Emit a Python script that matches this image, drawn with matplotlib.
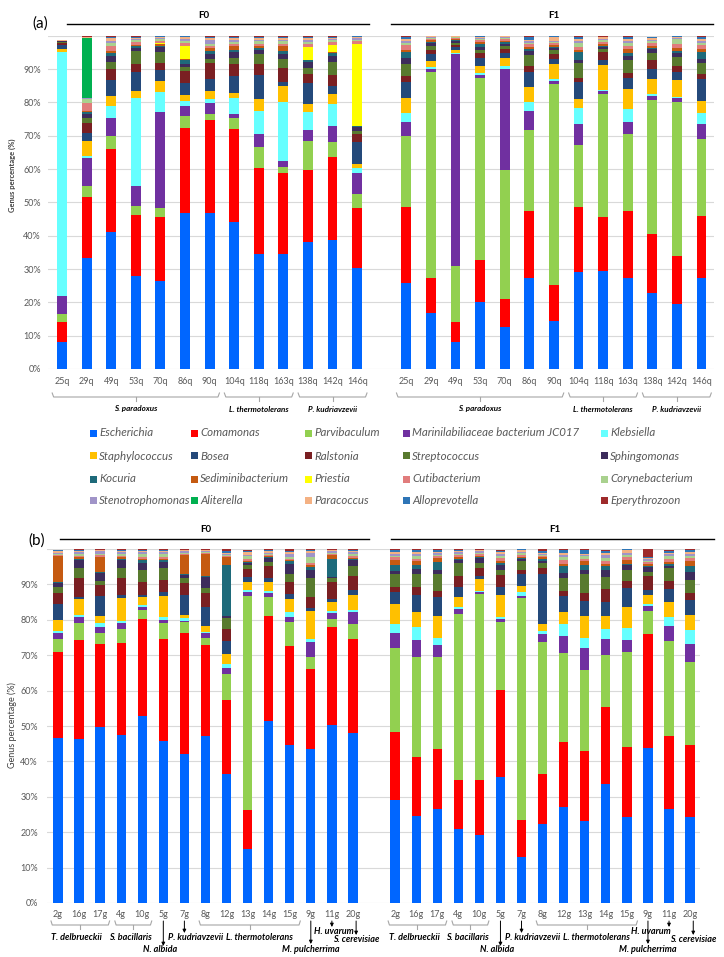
import numpy as np
import matplotlib
matplotlib.use('Agg')
import matplotlib.pyplot as plt
from matplotlib.patches import Rectangle
from matplotlib.lines import Line2D
from matplotlib import transforms

plt.rcParams['font.family'] = ['Lato', 'DejaVu Sans']

# --- genera (stacking order, bottom -> top) and colours ---
genera = ['Escherichia', 'Comamonas', 'Parvibaculum', 'Marinilabiliaceae bacterium JC017', 'Klebsiella',
          'Staphylococcus', 'Bosea', 'Ralstonia', 'Streptococcus', 'Sphingomonas',
          'Kocuria', 'Sediminibacterium', 'Priestia', 'Cutibacterium', 'Corynebacterium',
          'Stenotrophomonas', 'Aliterella', 'Paracoccus', 'Alloprevotella', 'Eperythrozoon']
colors = ['#0066FF', '#FF0000', '#92D050', '#7030A0', '#66FFFF',
          '#FFC000', '#24497A', '#7A1F22', '#587A2E', '#3D2C5C',
          '#1E6A7A', '#C55A11', '#FFFF00', '#E17C7C', '#A9D18E',
          '#A094C8', '#00B050', '#F4B183', '#2E75B6', '#9E2A2B']

# --- panel (a): F0 then F1, same samples ---
samples_a = ['25q', '29q', '49q', '53q', '70q', '86q', '90q', '104q', '118q', '163q', '138q', '142q', '146q']

esch_a = [8, 33.4, 41.0, 28.0, 26.4, 46.7, 46.7, 44.2, 34.4, 34.6, 38.2, 38.8, 30.4,
          25.9, 16.9, 8.0, 20.0, 12.5, 27.3, 14.5, 29.0, 29.5, 27.2, 22.7, 19.4, 27.2]
coma_a = [6, 18.3, 24.9, 18.1, 19.2, 25.6, 28.1, 27.8, 25.9, 24.1, 21.6, 24.7, 17.8,
          22.6, 10.4, 6.0, 12.6, 8.5, 20.1, 10.6, 19.5, 16.0, 20.2, 17.7, 14.6, 18.7]
parv_a = [2.5, 3.1, 3.9, 2.7, 2.6, 3.7, 1.8, 3.3, 6.3, 1.8, 8.7, 4.6, 4.2,
          21.5, 61.7, 16.8, 54.8, 38.7, 24.3, 60.5, 18.6, 36.9, 23.2, 40.3, 46.2, 23.0]
mari_a = [5.3, 8.5, 5.4, 6.2, 28.9, 3.0, 3.1, 1.1, 3.9, 1.9, 3.3, 4.7, 6.5,
          4.1, 0.9, 63.7, 0.8, 30.2, 5.6, 0.8, 6.3, 1.0, 3.5, 1.2, 1.0, 4.6]
kleb_a = [73.4, 0.6, 3.6, 26.3, 6.1, 1.4, 1.3, 4.9, 6.8, 17.6, 5.2, 6.6, 1.4,
          2.6, 0.8, 0.4, 0.7, 1.1, 2.9, 0.5, 4.8, 0.4, 3.8, 0.5, 0.5, 3.2]
staph_a = [0.8, 4.4, 3.2, 2.0, 3.2, 1.7, 2.5, 1.6, 3.8, 5.0, 2.6, 3.0, 1.1,
           4.7, 1.7, 0.8, 2.1, 2.3, 4.5, 4.6, 2.9, 7.4, 6.0, 4.7, 5.1, 3.7]
bosea_a = [1.2, 2.6, 4.7, 5.9, 3.2, 3.7, 3.6, 5.1, 7.2, 1.2, 6.2, 2.4, 6.7,
           4.8, 2.0, 0.8, 2.2, 1.6, 4.5, 1.5, 4.9, 1.4, 3.3, 3.0, 2.2, 6.6]
ralst_a = [0.6, 2.8, 3.4, 2.2, 2.1, 3.6, 4.7, 3.5, 3.3, 4.0, 2.7, 3.3, 2.3,
           1.8, 1.3, 0.8, 1.5, 1.0, 1.8, 1.4, 1.3, 2.4, 1.6, 2.5, 2.0, 1.4]
strep_a = [0.2, 1.5, 1.9, 3.9, 3.5, 1.2, 1.2, 1.7, 2.8, 2.8, 1.8, 4.1, 1.1,
           3.6, 1.2, 0.5, 1.0, 1.0, 3.3, 1.2, 4.6, 1.0, 3.9, 2.1, 2.6, 3.3]
sphing_a = [0.3, 1.3, 1.8, 1.0, 1.4, 1.0, 1.5, 1.8, 1.2, 1.5, 1.7, 1.8, 1.1,
            1.7, 0.8, 0.6, 1.0, 0.7, 1.0, 0.7, 0.9, 0.6, 1.3, 1.2, 1.1, 1.2]
kocur_a = [0.1, 0.6, 1.0, 0.6, 0.4, 1.0, 0.8, 0.8, 0.6, 0.8, 0.7, 0.8, 0.3,
           1.8, 0.5, 0.3, 0.7, 0.4, 0.7, 0.4, 2.2, 0.4, 0.9, 0.5, 0.8, 2.2]
sedim_a = [0, 0.3, 0.7, 0.4, 0.4, 0.3, 1.0, 1.2, 0.6, 1.5, 0, 0.3, 0,
           0.7, 0.4, 0.3, 0.6, 0.4, 0.7, 0.4, 0.8, 0.5, 1.1, 0.6, 0.7, 0.9]
priest_a = [0, 0, 0, 0, 0.4, 4.0, 0, 0, 0, 0, 4.0, 2.1, 24.7,
            0, 0, 0, 0, 0, 0, 0, 0, 0, 0, 0, 0, 0]
cuti_a = [0.1, 2.3, 1.5, 0.7, 0.6, 1.0, 0.7, 0.6, 0.8, 0.8, 0.8, 0.8, 0.7,
          1.5, 0.5, 0.3, 0.6, 0.5, 0.7, 0.6, 0.8, 0.7, 1.0, 0.7, 1.3, 1.2]
coryne_a = [0, 1.4, 0.8, 0.6, 0.5, 0.4, 0.5, 0.6, 0.7, 0.7, 0.6, 0.6, 0.5,
            0.6, 0.3, 0.2, 0.4, 0.3, 0.5, 0.4, 1.2, 0.5, 0.8, 0.6, 1.5, 0.6]
steno_a = [0, 0.2, 0.6, 0.3, 0.3, 0.6, 1.2, 0.4, 0.5, 0.5, 0.5, 0.4, 0.4,
           0.5, 0.2, 0.1, 0.3, 0.3, 0.4, 0.4, 0.5, 0.4, 0.6, 0.5, 0.3, 0.5]
aliter_a = [0, 17.9, 0.1, 0.1, 0, 0, 0, 0, 0, 0, 0, 0, 0,
            0, 0, 0, 0, 0, 0, 0, 0, 0, 0, 0, 0, 0]
parac_a = [0.1, 0.3, 0.7, 0.4, 0.4, 0.6, 0.5, 0.6, 0.5, 0.5, 0.6, 0.4, 0.4,
           0.6, 0.2, 0.2, 0.3, 0.3, 0.5, 1.0, 0.6, 0.4, 0.5, 0.4, 0.3, 0.6]
allop_a = [0, 0.2, 0.3, 0.3, 0.2, 0.3, 0.4, 0.4, 0.4, 0.4, 0.4, 0.3, 0.3,
           0.5, 0.1, 0.1, 0.2, 0.2, 0.9, 0.3, 0.6, 0.2, 0.7, 0.3, 0.2, 0.6]
epery_a = [0, 0.2, 0.3, 0.3, 0.2, 0.2, 0.3, 0.3, 0.3, 0.3, 0.3, 0.3, 0.2,
           0.3, 0.1, 0.1, 0.2, 0.1, 0.3, 0.2, 0.3, 0.3, 0.3, 0.2, 0.2, 0.3]

# --- panel (b): F0 then F1, same samples ---
samples_b = ['2g', '16g', '17g', '4g', '10g', '5g', '7g', '8g', '12g', '13g', '14g', '15g', '9g', '11g', '20g']

esch_b = [46.5, 46.3, 49.6, 47.4, 52.8, 45.9, 42.2, 47.1, 36.4, 15.3, 51.5, 44.5, 43.5, 50.3, 47.9,
          29.1, 24.7, 26.5, 20.8, 19.2, 35.6, 13.0, 22.2, 27.2, 23.3, 33.5, 24.2, 43.9, 26.5, 24.2]
coma_b = [24.3, 28.0, 23.5, 26.0, 27.4, 28.6, 34.0, 25.8, 20.9, 10.9, 29.6, 28.1, 22.5, 27.8, 26.6,
          19.2, 16.6, 17.0, 14.0, 15.5, 24.6, 10.4, 14.3, 18.4, 19.6, 22.0, 20.0, 32.0, 20.7, 20.5]
parv_b = [3.8, 4.9, 3.1, 3.9, 2.6, 4.5, 3.1, 2.1, 7.3, 60.6, 5.2, 6.9, 3.6, 2.1, 4.3,
          23.6, 28.3, 26.1, 46.7, 52.5, 19.1, 62.7, 37.3, 24.9, 22.9, 14.6, 26.8, 6.6, 26.9, 23.5]
mari_b = [1.8, 1.5, 1.7, 1.7, 0.9, 0.9, 0.5, 1.2, 1.9, 1.0, 1.2, 1.4, 4.2, 1.8, 3.5,
          4.3, 4.7, 3.3, 1.5, 0.6, 0.9, 0.7, 2.1, 5.0, 6.1, 4.5, 3.3, 1.4, 4.2, 4.9]
kleb_b = [0.4, 0.7, 1.1, 0.7, 0.5, 1.0, 0.8, 0.3, 1.0, 0.6, 0.7, 1.4, 0.7, 0.6, 0.5,
          2.6, 3.8, 1.9, 0.5, 0.2, 0.7, 1.0, 0.9, 3.3, 2.9, 2.8, 3.5, 0.6, 2.6, 4.0]
staph_b = [3.1, 4.4, 2.1, 6.4, 2.3, 5.9, 0.8, 1.8, 2.7, 2.4, 2.6, 3.5, 8.0, 2.3, 4.2,
           5.7, 4.2, 6.4, 3.0, 3.4, 6.1, 1.8, 1.9, 3.5, 6.3, 3.7, 5.9, 2.5, 4.0, 4.3]
bosea_b = [4.7, 0.7, 5.6, 0.9, 0.5, 1.0, 5.6, 5.4, 3.8, 1.4, 1.0, 1.4, 0.7, 1.0, 1.4,
           3.3, 4.7, 5.1, 2.9, 1.1, 2.4, 3.2, 14.1, 4.5, 4.2, 4.0, 5.2, 1.4, 3.8, 4.2]
ralst_b = [2.9, 5.2, 3.1, 4.7, 3.8, 3.4, 3.3, 3.8, 3.4, 2.2, 3.5, 3.6, 3.1, 4.7, 4.1,
           1.6, 2.4, 1.7, 3.1, 2.2, 3.3, 1.4, 1.9, 1.4, 2.2, 3.6, 2.1, 4.1, 2.3, 1.9]
strep_b = [1.7, 2.8, 1.2, 3.0, 3.3, 3.3, 1.4, 1.6, 3.0, 1.1, 1.1, 2.0, 5.4, 1.1, 2.8,
           3.4, 3.4, 4.8, 3.5, 1.3, 1.4, 2.4, 1.3, 3.5, 5.3, 3.5, 3.1, 0.9, 3.5, 3.7]
sphing_b = [1.2, 2.4, 2.1, 2.2, 1.9, 1.9, 1.0, 3.1, 0.6, 0.5, 1.0, 2.9, 2.4, 0.4, 1.6,
            1.0, 1.5, 1.3, 0.9, 1.4, 1.4, 0.5, 0.6, 1.4, 1.3, 1.9, 1.4, 1.6, 0.6, 2.2]
kocur_b = [0.2, 0.3, 0.4, 0.3, 0.9, 0.4, 0.2, 0.2, 14.4, 0.3, 0.2, 0.8, 0.9, 5.2, 0.3,
           1.7, 1.2, 2.3, 0.3, 0.3, 0.6, 0.4, 0.6, 2.2, 1.4, 1.2, 0.4, 0.3, 0.8, 1.9]
sedim_b = [7.4, 0.4, 4.3, 0.4, 0.3, 0.3, 5.4, 6.1, 2.3, 0.4, 0.3, 0.3, 0.4, 1.1, 0.3,
           1.4, 1.1, 1.0, 0.4, 0.3, 0.4, 0.3, 0.5, 0.6, 1.1, 0.6, 1.1, 0.4, 0.5, 1.3]
priest_b = [0] * 30
cuti_b = [0.3, 0.5, 0.5, 0.5, 0.5, 0.5, 0.4, 0.3, 0.4, 0.6, 0.4, 0.5, 0.6, 0.3, 0.5,
          0.7, 0.7, 0.5, 0.6, 0.5, 1.0, 0.5, 0.4, 1.0, 0.5, 0.7, 0.7, 0.5, 0.9, 0.8]
coryne_b = [0.4, 0.4, 0.3, 0.4, 0.8, 1.0, 0.3, 0.3, 0.3, 0.6, 0.3, 0.4, 1.8, 0.3, 0.5,
            0.5, 0.7, 0.4, 0.5, 0.4, 0.5, 0.5, 0.3, 0.8, 0.8, 0.8, 0.6, 0.4, 0.6, 0.6]
steno_b = [0.3, 0.6, 0.7, 0.6, 0.6, 0.5, 0.4, 0.3, 0.3, 0.4, 0.4, 1.0, 1.0, 0.3, 0.6,
           0.5, 0.6, 0.5, 0.4, 0.4, 0.6, 0.4, 0.3, 0.7, 0.4, 1.0, 0.6, 0.6, 0.6, 0.7]
aliter_b = [0] * 30
parac_b = [0.4, 0.3, 0.3, 0.3, 0.3, 0.3, 0.2, 0.2, 0.3, 0.8, 0.4, 0.5, 0.6, 0.3, 0.3,
           0.5, 0.5, 0.4, 0.4, 0.3, 0.5, 0.5, 0.3, 0.6, 0.4, 0.5, 0.7, 0.3, 0.4, 0.5]
allop_b = [0.2, 0.2, 0.2, 0.3, 0.3, 0.3, 0.2, 0.2, 0.3, 0.3, 0.3, 0.3, 0.3, 0.2, 0.3,
           0.6, 0.5, 0.4, 0.3, 0.2, 0.4, 0.2, 0.3, 0.6, 1.1, 0.6, 0.3, 0.2, 0.4, 0.5]
epery_b = [0.2, 0.4, 0.2, 0.3, 0.3, 0.2, 0.2, 0.2, 0.6, 0.3, 0.3, 0.4, 0.3, 0.2, 0.3,
           0.3, 0.4, 0.4, 0.2, 0.2, 0.3, 0.1, 0.7, 0.4, 0.2, 0.3, 0.2, 2.2, 0.3, 0.3]

series_a = [esch_a, coma_a, parv_a, mari_a, kleb_a, staph_a, bosea_a, ralst_a, strep_a, sphing_a,
            kocur_a, sedim_a, priest_a, cuti_a, coryne_a, steno_a, aliter_a, parac_a, allop_a, epery_a]
series_b = [esch_b, coma_b, parv_b, mari_b, kleb_b, staph_b, bosea_b, ralst_b, strep_b, sphing_b,
            kocur_b, sedim_b, priest_b, cuti_b, coryne_b, steno_b, aliter_b, parac_b, allop_b, epery_b]

W, H = 724, 957
GRAY = '#595959'
fig = plt.figure(figsize=(W / 100, H / 100), dpi=100)


def fx(px):
    return px / W


def fy(py):
    return 1 - py / H


def make_axes(left, right, top, bottom):
    return fig.add_axes([fx(left), fy(bottom), (right - left) / W, (bottom - top) / H])


def draw_panel(ax, series, xpos, labels, width, xlim, fs, ypad, xpad):
    bottom = np.zeros(len(xpos))
    for vals, col in zip(series, colors):
        v = np.array(vals, dtype=float)
        ax.bar(xpos, v, width, bottom=bottom, color=col, linewidth=0, zorder=2)
        bottom += v
    ax.set_xlim(*xlim)
    ax.set_ylim(0, 100)
    ax.set_yticks(range(0, 100, 10))
    ax.set_yticklabels(['%d%%' % t for t in range(0, 100, 10)])
    for t in range(0, 101, 10):
        ax.axhline(t, color='#D9D9D9', lw=0.8, zorder=1)
    ax.set_xticks(xpos)
    ax.set_xticklabels(labels)
    ax.tick_params(axis='both', length=0, colors=GRAY, labelsize=fs)
    ax.tick_params(axis='y', pad=ypad)
    ax.tick_params(axis='x', pad=xpad)
    for s in ax.spines.values():
        s.set_visible(False)


def brace(ax, x0, x1, py, label, ly, fs, lx=None):
    tr = transforms.blended_transform_factory(ax.transData, fig.transFigure)
    xc = (x0 + x1) / 2
    ax.plot([x0, x0 + 0.06, x1 - 0.06, x1], [fy(py - 4), fy(py), fy(py), fy(py - 4)],
            color='#A6A6A6', lw=0.8, transform=tr, clip_on=False)
    ax.plot([xc, xc], [fy(py), fy(py + 4)], color='#A6A6A6', lw=0.8, transform=tr, clip_on=False)
    ax.text(xc if lx is None else lx, fy(ly), label, transform=tr, ha='center', va='center',
            fontsize=fs, fontweight='bold', fontstyle='italic', color='black')


def arrow_label(ax, x, y0, y1, label, lx, ly, fs):
    tr = transforms.blended_transform_factory(ax.transData, fig.transFigure)
    ax.annotate('', xy=(x, fy(y1)), xytext=(x, fy(y0)), xycoords=tr, textcoords=tr,
                arrowprops=dict(arrowstyle='-|>', color='black', lw=0.7, mutation_scale=5,
                                shrinkA=0, shrinkB=0), annotation_clip=False)
    ax.text(lx, fy(ly), label, transform=tr, ha='center', va='center',
            fontsize=fs, fontweight='bold', fontstyle='italic', color='black')


# ---------------- panel (a) ----------------
ax_a = make_axes(48, 714, 35.7, 369)
pos_a = list(range(13)) + list(range(14, 27))
draw_panel(ax_a, series_a, pos_a, samples_a + samples_a, 0.4, (-0.57, 26.51), 6.5, 5, 6)

for off in (0, 14):
    brace(ax_a, off - 0.4, off + 6.4, 397, 'S. paradoxus', 409, 5.8)
    brace(ax_a, off + 6.6, off + 9.4, 397, 'L. thermotolerans', 409, 5.8)
    brace(ax_a, off + 9.6, off + 12.4, 397, 'P. kudriavzevii', 409, 5.8)

fig.text(fx(12), fy(175), 'Genus percentage (%)', rotation=90, ha='center', va='center',
         fontsize=5.5, color='#404040', fontweight='bold')
fig.text(fx(32), fy(24), '(a)', ha='left', va='center', fontsize=11)
fig.text(fx(204), fy(15), 'F0', ha='center', va='center', fontsize=7, fontweight='bold')
fig.text(fx(554), fy(15), 'F1', ha='center', va='center', fontsize=7, fontweight='bold')
fig.add_artist(Line2D([fx(67), fx(369)], [fy(24), fy(24)], color='black', lw=1.0))
fig.add_artist(Line2D([fx(391), fx(713)], [fy(24), fy(24)], color='black', lw=1.0))

# ---------------- legend ----------------
col_x = [93, 194, 308, 406, 604]
row_y = [433, 456, 479, 501]
for i, (name, col) in enumerate(zip(genera, colors)):
    sx, sy = col_x[i % 5], row_y[i // 5]
    fig.patches.append(Rectangle((fx(sx - 3.5), fy(sy + 3.5)), 7 / W, 7 / H, transform=fig.transFigure,
                                 facecolor=col, edgecolor='none', figure=fig))
    fig.text(fx(sx + 6), fy(sy), name, ha='left', va='center', fontsize=8.3, fontstyle='italic', color=GRAY)

# ---------------- panel (b) ----------------
ax_b = make_axes(47, 700, 549, 903)
pos_b = list(range(15)) + list(range(16, 31))
draw_panel(ax_b, series_b, pos_b, samples_b + samples_b, 0.44, (-0.52, 30.47), 6.5, 6.5, 5)

fs_b = 6.5
for off in (0, 16):
    brace(ax_b, off - 0.33, off + 2.45, 925, 'T. delbrueckii', 937, fs_b, lx=off + 0.9)
    brace(ax_b, off + 2.7, off + 4.45, 925, 'S. bacillaris', 937, fs_b, lx=off + 3.45)
    brace(ax_b, off + 6.7, off + 11.5, 925, 'L. thermotolerans', 937, fs_b, lx=off + 9.55)
    arrow_label(ax_b, off + 5, 921, 946, 'N. albida', off + 4.85, 950, fs_b)
    arrow_label(ax_b, off + 6, 921, 933, 'P. kudriavzevii', off + 6.55, 938, fs_b)
    arrow_label(ax_b, off + 12, 921, 944, 'M. pulcherrima', off + 12, 950, fs_b)
    arrow_label(ax_b, off + 14.15, 921, 935, 'S. cerevisiae', off + 14.15, 939, fs_b)
arrow_label(ax_b, 13, 921, 927, 'H. uvarum', 13.1, 931, fs_b)
arrow_label(ax_b, 29, 921, 927, 'H. uvarum', 28.15, 931, fs_b)

fig.text(fx(12), fy(725), 'Genus percentage (%)', rotation=90, ha='center', va='center',
         fontsize=6.5, color='#404040')
fig.text(fx(28), fy(541), '(b)', ha='left', va='center', fontsize=11)
fig.text(fx(206), fy(530), 'F0', ha='center', va='center', fontsize=7, fontweight='bold')
fig.text(fx(555), fy(530), 'F1', ha='center', va='center', fontsize=7, fontweight='bold')
fig.add_artist(Line2D([fx(60), fx(369)], [fy(539), fy(539)], color='black', lw=1.0))
fig.add_artist(Line2D([fx(391), fx(714)], [fy(539), fy(539)], color='black', lw=1.0))

fig.savefig('out.png', dpi=100)
